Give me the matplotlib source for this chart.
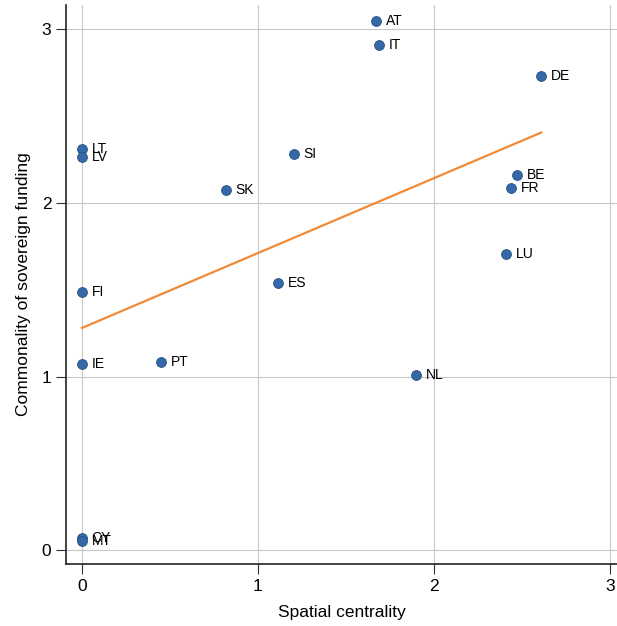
import matplotlib
matplotlib.use("Agg")
import matplotlib.pyplot as plt
import numpy as np

plt.rcParams['font.family'] = ['Liberation Sans', 'DejaVu Sans']

# Country codes and values
countries = ["AT", "IT", "DE", "LT", "LV", "SI", "SK", "BE", "FR", "LU",
             "ES", "FI", "IE", "PT", "NL", "CY", "MT"]
centrality = [1.67, 1.69, 2.61, 0.0, 0.0, 1.205, 0.818, 2.47, 2.44, 2.41,
              1.114, 0.0, 0.0, 0.449, 1.898, 0.0, 0.0]
commonality = [3.045, 2.907, 2.729, 2.309, 2.263, 2.28, 2.073, 2.159, 2.084, 1.704,
               1.537, 1.485, 1.071, 1.082, 1.007, 0.069, 0.052]

xticks = [0, 1, 2, 3]
yticks = [0, 1, 2, 3]

x = np.array(centrality)
y = np.array(commonality)

fig = plt.figure(figsize=(6.17, 6.26), dpi=100)
ax = fig.add_axes([66/617, 62/626, 551/617, 559/626])

# grid
ax.set_axisbelow(True)
ax.grid(True, color='#c8c8c8', linewidth=0.8)

# linear fit
slope, intercept = np.polyfit(x, y, 1)
xf = np.array([x.min(), x.max()])
ax.plot(xf, intercept + slope * xf, color='#f28a35', linewidth=1.6, zorder=2)

ax.scatter(x, y, s=50, color='#3468a6', edgecolors='#24507f', linewidths=0.6, zorder=3)

for c, xi, yi in zip(countries, x, y):
    ax.annotate(c, (xi, yi), xytext=(7, 0), textcoords='offset points',
                va='center', ha='left', fontsize=10, zorder=4)

ax.set_xlim(-0.091, 3.04)
ax.set_ylim(-0.08, 3.14)
ax.set_xticks(xticks)
ax.set_yticks(yticks)
ax.tick_params(axis='both', labelsize=12.5, length=7, width=0.8, color='#333333')

ax.spines['top'].set_visible(False)
ax.spines['right'].set_visible(False)
for s in ['left', 'bottom']:
    ax.spines[s].set_linewidth(1.2)
    ax.spines[s].set_color('#222222')

ax.set_xlabel("Spatial centrality", fontsize=12.5, labelpad=8)
ax.set_ylabel("Commonality of sovereign funding", fontsize=12.5, labelpad=8)

fig.savefig("out.png", dpi=100)
